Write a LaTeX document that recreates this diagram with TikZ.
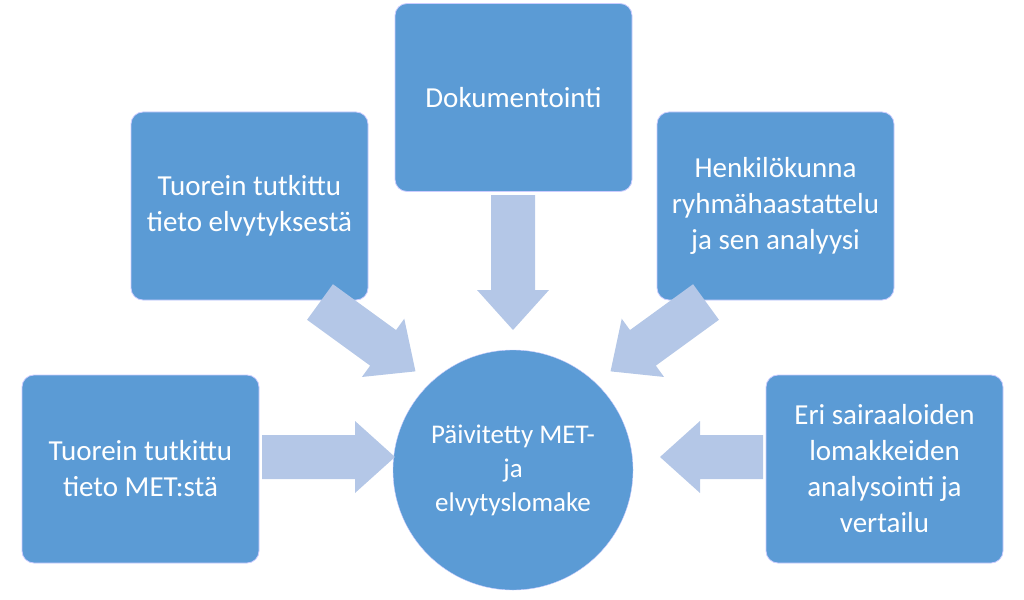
\documentclass[tikz,border=0pt]{standalone}
\usepackage{fontspec}
\setmainfont{Carlito}
\begin{document}
\begin{tikzpicture}[x=1pt,y=-1pt,
  box/.style={draw=white!80!blue, line width=0.8pt, fill=boxblue, rounded corners=12pt, minimum width=237pt, minimum height=188pt, text=white, font=\fontsize{29}{36}\selectfont, align=center, inner sep=4pt},
  circ/.style={circle, fill=boxblue, draw=white!80!blue, minimum size=240pt, text=white, font=\fontsize{27}{34}\selectfont, align=center},
  barrow/.pic={\fill[arrowblue] (0,-22) -- (\pgfkeysvalueof{/tikz/alen}-40,-22) -- (\pgfkeysvalueof{/tikz/alen}-40,-36) -- (\pgfkeysvalueof{/tikz/alen},0) -- (\pgfkeysvalueof{/tikz/alen}-40,36) -- (\pgfkeysvalueof{/tikz/alen}-40,22) -- (0,22) -- cycle;},
  alen/.initial=100]
\definecolor{boxblue}{HTML}{5B9BD5}
\definecolor{arrowblue}{HTML}{B4C7E7}
\useasboundingbox (0,0) rectangle (1024,599);
\node[box] (dok) at (513.5,97.5) {Dokumentointi};
\node[box] (tl) at (249.5,206) {Tuorein tutkittu\\tieto elvytyksestä};
\node[box] (tr) at (775.5,206) {Henkilökunna\\ryhmähaastattelu\\ja sen analyysi};
\node[box] (bl) at (140.5,469) {Tuorein tutkittu\\tieto MET:stä};
\node[box] (br) at (884.5,469) {Eri sairaaloiden\\lomakkeiden\\analysointi ja\\vertailu};
\node[circ] (c) at (513,470) {Päivitetty MET-\\ja\\elvytyslomake};
\pic[alen=135, rotate=-90] at (513,195) {barrow};
\pic[alen=133] at (262,457) {barrow};
\pic[alen=103, rotate=180] at (763,457) {barrow};
\pic[alen=118, rotate=-36] at (320,302) {barrow};
\pic[alen=118, rotate=-144] at (706,302) {barrow};
\end{tikzpicture}
\end{document}
